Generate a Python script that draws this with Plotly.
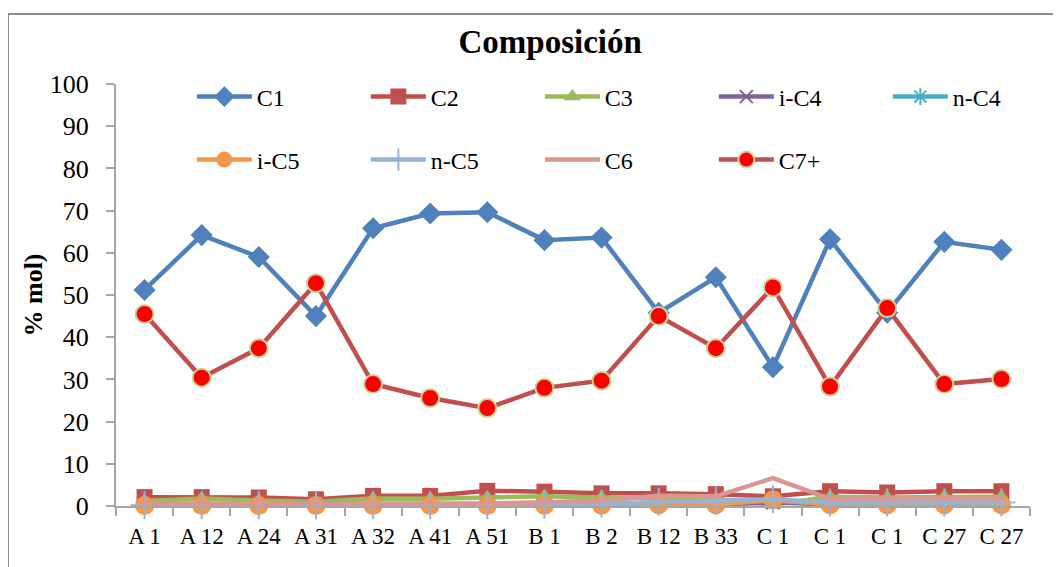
import plotly.graph_objects as go

labels = ["A 1", "A 12", "A 24", "A 31", "A 32", "A 41", "A 51", "B 1", "B 2",
          "B 12", "B 33", "C 1", "C 1", "C 1", "C 27", "C 27"]

c1 = [51.2, 64.2, 59.0, 45.0, 65.8, 69.3, 69.6, 63.0, 63.6, 45.8, 54.2, 32.9, 63.2, 45.8, 62.6, 60.7]
c2 = [2.1, 2.1, 2.0, 1.6, 2.4, 2.4, 3.6, 3.4, 3.0, 3.0, 2.8, 2.3, 3.5, 3.2, 3.5, 3.5]
c3 = [1.2, 1.8, 1.3, 1.0, 1.8, 1.7, 2.0, 2.3, 2.0, 1.8, 1.7, 0.3, 2.2, 2.0, 2.2, 2.2]
ic4 = [0.3, 0.3, 0.3, 0.3, 0.3, 0.3, 0.4, 0.4, 0.4, 0.4, 0.4, 0.8, 0.4, 0.4, 0.4, 0.4]
nc4 = [0.4, 0.4, 0.4, 0.8, 0.4, 0.4, 0.5, 0.5, 0.5, 0.6, 0.6, 1.2, 0.6, 0.6, 0.6, 0.6]
ic5 = [0.1, 0.1, 0.1, 0.1, 0.1, 0.1, 0.1, 0.2, 0.2, 0.3, 0.3, 1.5, 0.3, 0.3, 0.3, 0.3]
nc5 = [0.2, 0.2, 0.2, 0.2, 0.2, 0.2, 0.2, 0.3, 0.6, 1.0, 1.2, 1.6, 0.8, 0.8, 0.8, 0.8]
c6 = [0.6, 0.6, 0.5, 0.5, 0.6, 0.6, 0.6, 0.9, 1.3, 2.4, 2.3, 6.6, 1.7, 1.8, 1.8, 1.8]
c7 = [45.5, 30.4, 37.4, 52.8, 28.9, 25.6, 23.2, 28.0, 29.7, 45.0, 37.4, 51.8, 28.3, 46.9, 28.9, 30.1]

x = list(range(len(labels)))
FONT = "Liberation Serif"
GRAY = "#a6a6a6"

series = [
    ("C1", c1, "#4F81BD", dict(symbol="diamond", size=17, color="#4F81BD"), "legend"),
    ("C2", c2, "#C0504D", dict(symbol="square", size=16, color="#C0504D"), "legend"),
    ("C3", c3, "#9BBB59", dict(symbol="triangle-up", size=15, color="#9BBB59"), "legend"),
    ("i-C4", ic4, "#8064A2", dict(symbol="x-thin", size=13, color="#8064A2",
                                   line=dict(color="#8064A2", width=2)), "legend"),
    ("n-C4", nc4, "#4BACC6", dict(symbol="asterisk", size=14, color="#4BACC6",
                                   line=dict(color="#4BACC6", width=2)), "legend"),
    ("i-C5", ic5, "#F79646", dict(symbol="circle", size=19, color="#F79646"), "legend2"),
    ("n-C5", nc5, "#95B3D7", dict(symbol="cross-thin", size=20, color="#95B3D7",
                                   line=dict(color="#95B3D7", width=2)), "legend2"),
    ("C6", c6, "#D99694", None, "legend2"),
    ("C7+", c7, "#C0504D", dict(symbol="circle", size=18, color="#FF0000",
                                 line=dict(color="#C3D69B", width=2)), "legend2"),
]

fig = go.Figure()
for name, vals, col, mk, lg in series:
    fig.add_trace(go.Scatter(
        x=x, y=vals, name=name,
        mode="lines+markers" if mk else "lines",
        line=dict(color=col, width=4.5),
        marker=mk if mk else None,
        cliponaxis=False,
        legend=lg,
    ))

# page renders with an 8px body offset; layout values compensate for it
L, T, PW, PH = 108, 76, 914, 422

leg_common = dict(orientation="h", xanchor="left", yanchor="middle",
                  font=dict(family=FONT, size=24, color="black"),
                  entrywidth=104, entrywidthmode="pixels", itemwidth=55,
                  bgcolor="rgba(0,0,0,0)", tracegroupgap=0)

fig.update_layout(
    width=1061, height=567,
    margin=dict(l=L, r=1061 - L - PW, t=T, b=567 - T - PH, autoexpand=False),
    paper_bgcolor="white", plot_bgcolor="white",
    font=dict(family=FONT, color="black"),
    title=dict(text="<b>Composición</b>", x=0.511, xanchor="center",
               y=1 - 33 / 567, yanchor="middle", yref="container",
               font=dict(family=FONT, size=33, color="black")),
    legend=dict(x=0.083, y=1 - (89 - T) / PH, **leg_common),
    legend2=dict(x=0.083, y=1 - (152 - T) / PH, **leg_common),
    showlegend=True,
    shapes=[dict(type="rect", xref="paper", yref="paper",
                 x0=(0 - L) / PW, x1=(1070 - L) / PW,
                 y0=-(580 - T - PH) / PH, y1=1 + (T - 6) / PH,
                 line=dict(color="#8c8c8c", width=2), layer="below")],
)

fig.update_xaxes(
    range=[-0.5, len(labels) - 0.5],
    tickvals=x, ticktext=labels, ticks="",
    tickfont=dict(family=FONT, size=23, color="black"),
    ticklabelstandoff=8,
    showline=True, linecolor=GRAY, linewidth=2,
    showgrid=False, zeroline=False,
    minor=dict(tick0=-0.5, dtick=1, ticks="outside", ticklen=8,
               tickcolor=GRAY, tickwidth=2, showgrid=False),
)
fig.update_yaxes(
    range=[0, 100], dtick=10, ticks="outside", ticklen=8,
    tickcolor=GRAY, tickwidth=2,
    tickfont=dict(family=FONT, size=26, color="black"),
    ticklabelstandoff=12,
    showline=True, linecolor=GRAY, linewidth=2,
    showgrid=False, zeroline=False,
    title=dict(text="<b>% mol)</b>", standoff=0,
               font=dict(family=FONT, size=26, color="black")),
)

fig.write_html("out.html")
